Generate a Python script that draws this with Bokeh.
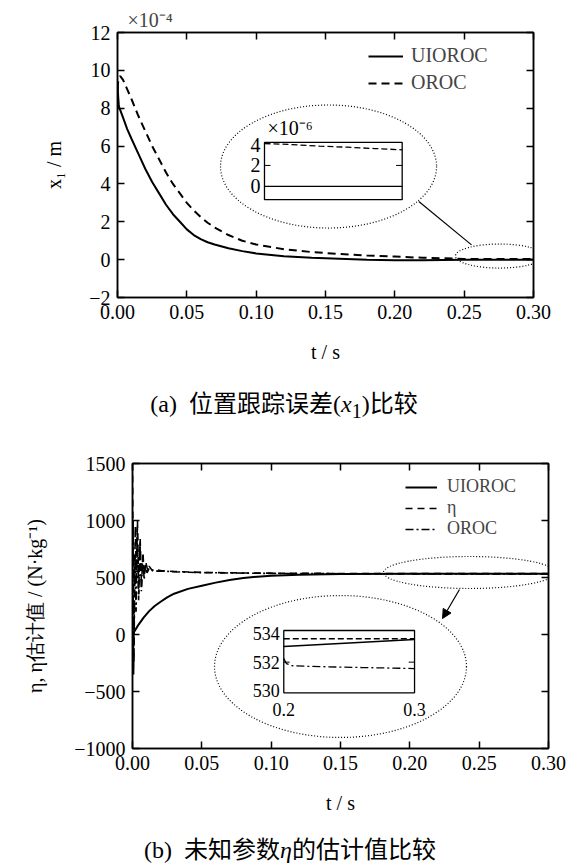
from bokeh.plotting import figure
from bokeh.models import (Range1d, FixedTicker, LinearAxis, Legend, LegendItem, Title, Div,
                          Arrow, NormalHead, CustomJSTickFormatter)
from bokeh.layouts import column
from bokeh.embed import file_html
from bokeh.resources import INLINE
from bokeh.core.properties import value

FONT = "Liberation Serif"

# ---------------- shared x axis ----------------
ticks_x = [0.0, 0.05, 0.10, 0.15, 0.20, 0.25, 0.30]
labels_x = ["0.00", "0.05", "0.10", "0.15", "0.20", "0.25", "0.30"]

# ---------------- (a) position tracking error x1 (units of 1e-4 m) ----------------
t_a = [0, 0.0005, 0.001, 0.002, 0.004, 0.007, 0.01, 0.015, 0.02, 0.025, 0.03, 0.035,
       0.04, 0.045, 0.05, 0.055, 0.06, 0.065, 0.07, 0.08, 0.09, 0.10, 0.12, 0.14, 0.16,
       0.18, 0.20, 0.22, 0.25, 0.28, 0.30]
x1_uioroc = [9.3, 8.6, 8.1, 7.9, 7.5, 6.9, 6.4, 5.6, 4.8, 4.1, 3.5, 2.9,
             2.4, 2.0, 1.6, 1.3, 1.08, 0.92, 0.8, 0.6, 0.45, 0.33, 0.18, 0.1, 0.05,
             0.0, -0.03, -0.03, 0.0, 0.0, 0.0]
x1_oroc = [9.0, 9.4, 9.6, 9.7, 9.5, 9.0, 8.5, 7.6, 6.8, 6.0, 5.3, 4.6,
           4.0, 3.5, 3.0, 2.6, 2.25, 1.95, 1.7, 1.3, 1.0, 0.8, 0.55, 0.4, 0.3,
           0.22, 0.16, 0.1, 0.04, 0.037, 0.035]
ticks_y_a = [-2, 0, 2, 4, 6, 8, 10, 12]
labels_y_a = ["\u22122", "0", "2", "4", "6", "8", "10", "12"]

# inset of (a) (units of 1e-6 m)
t_a_in = [0.25, 0.26, 0.27, 0.28, 0.29, 0.30]
x1_uioroc_in = [0, 0, 0, 0, 0, 0]
x1_oroc_in = [4.1, 4.0, 3.85, 3.75, 3.62, 3.5]
ticks_y_a_in = [0, 2, 4]
labels_y_a_in = ["0", "2", "4"]
xr_a_in = (0.25, 0.30)
yr_a_in = (-1.28, 4.22)

# ---------------- (b) estimate of eta ----------------
t_b_u = [0, 0.002, 0.004, 0.008, 0.012, 0.016, 0.02, 0.025, 0.03, 0.04, 0.05, 0.06,
         0.07, 0.08, 0.09, 0.10, 0.12, 0.15, 0.20, 0.25, 0.30]
eta_uioroc = [0, 40, 80, 148, 205, 250, 285, 325, 358, 400, 428, 455,
              478, 495, 507, 515, 525, 531, 533.1, 533.35, 533.6]
t_b_e = [0, 0.0004, 0.0008, 0.0014, 0.002, 0.0028, 0.0036, 0.0045, 0.0055, 0.0065,
         0.0075, 0.0085, 0.0095, 0.011, 0.012, 0.014, 0.017, 0.02, 0.03, 0.05, 0.08,
         0.10, 0.15, 0.20, 0.25, 0.30]
eta_true = [1500, 700, -350, 300, 950, 500, 1000, 350, 850, 420,
            720, 520, 640, 560, 600, 565, 575, 560, 552, 545, 540,
            538, 535, 533.65, 533.65, 533.65]
t_b_o = [0, 0.0005, 0.001, 0.0018, 0.0026, 0.0034, 0.0044, 0.0054, 0.0064, 0.0074,
         0.0084, 0.0094, 0.0105, 0.012, 0.015, 0.02, 0.03, 0.05, 0.08, 0.10, 0.15,
         0.19, 0.20, 0.202, 0.21, 0.25, 0.30]
eta_oroc = [300, 1000, -250, 700, 200, 950, 300, 800, 380, 700,
            480, 620, 540, 580, 555, 558, 550, 543, 538, 536, 533.5,
            532.6, 532.3, 531.9, 531.72, 531.62, 531.55]
ticks_y_b = [-1000, -500, 0, 500, 1000, 1500]
labels_y_b = ["\u22121000", "\u2212500", "0", "500", "1000", "1500"]

# inset of (b)
t_b_in = [0.20, 0.25, 0.30]
eta_uioroc_in = [533.1, 533.35, 533.6]
eta_true_in = [533.65, 533.65, 533.65]
t_b_in_o = [0.20, 0.202, 0.206, 0.22, 0.26, 0.30]
eta_oroc_in = [532.25, 531.9, 531.75, 531.7, 531.62, 531.55]
ticks_y_b_in = [530, 532, 534]
labels_y_b_in = ["530", "532", "534"]
ticks_x_b_in = [0.2, 0.3]
labels_x_b_in = ["0.2", "0.3"]
xr_b_in = (0.2, 0.3)
yr_b_in = (529.84, 534.23)

caption_a = "(a)&ensp;\u4f4d\u7f6e\u8ddf\u8e2a\u8bef\u5dee(<i>x</i><sub>1</sub>)\u6bd4\u8f83"
caption_b = "(b)&ensp;\u672a\u77e5\u53c2\u6570<i>\u03b7</i>\u7684\u4f30\u8ba1\u503c\u6bd4\u8f83"


def make_fig(height, bt, bb, yr, yt, yl, ylabel, ystandoff, margin_left):
    p = figure(width=568, height=height, x_range=Range1d(0, 0.3), y_range=Range1d(*yr),
               output_backend="svg", toolbar_location=None,
               min_border_left=117, min_border_right=35, min_border_top=bt, min_border_bottom=bb,
               margin=(0, 0, 0, margin_left))
    p.grid.visible = False
    p.outline_line_color = "black"
    p.outline_line_width = 1.5
    p.outline_line_alpha = 1
    p.background_fill_color = "white"
    p.border_fill_color = "white"
    xa = p.xaxis[0]
    ya = p.yaxis[0]
    xa.ticker = FixedTicker(ticks=ticks_x)
    xa.major_label_overrides = dict(zip(ticks_x, labels_x))
    ya.ticker = FixedTicker(ticks=yt)
    ya.major_label_overrides = dict(zip(yt, yl))
    xa.axis_label = "t / s"
    ya.axis_label = ylabel
    xa.axis_label_standoff = 19
    ya.axis_label_standoff = ystandoff
    top = LinearAxis(ticker=FixedTicker(ticks=ticks_x), formatter=CustomJSTickFormatter(code="return ''"))
    right = LinearAxis(ticker=FixedTicker(ticks=yt), formatter=CustomJSTickFormatter(code="return ''"))
    p.add_layout(top, "above")
    p.add_layout(right, "right")
    for ax in (xa, ya, top, right):
        ax.axis_line_color = "black"
        ax.axis_line_width = 1.5
        ax.major_tick_in = 7
        ax.major_tick_out = 0
        ax.major_tick_line_width = 1.5
        ax.minor_tick_line_color = None
        ax.major_label_text_font = FONT
        ax.major_label_text_font_size = "20px"
        ax.major_label_text_color = "black"
        ax.major_label_standoff = 7
        ax.axis_label_text_font = FONT
        ax.axis_label_text_font_size = "20px"
        ax.axis_label_text_font_style = "normal"
        ax.axis_label_text_color = "black"
    top.major_label_standoff = 0
    right.major_label_standoff = 0
    return p


def caption(html, height, pad_top, pad_right):
    style = ("font-family:'Liberation Serif','Noto Sans CJK SC',serif;font-size:24px;line-height:24px;"
             "color:black;white-space:nowrap;text-align:center;box-sizing:border-box;"
             f"width:583px;padding-top:{pad_top}px;padding-right:{pad_right}px;")
    return Div(text=f'<div style="{style}">{html}</div>', width=583, height=height, margin=0)


def legend_row(label, renderer, loc, glyph_w, standoff):
    return Legend(items=[LegendItem(label=label, renderers=[renderer])], location=loc,
                  padding=0, margin=0, spacing=0, glyph_width=glyph_w, glyph_height=18,
                  label_height=18, label_standoff=standoff, label_text_font=FONT,
                  label_text_font_size="18px", background_fill_alpha=0, border_line_color=None)


DOT = dict(fill_color=None, line_color="black", line_dash="1 2", line_width=1.2)

# ================= figure (a) =================
p1 = make_fig(380, 32, 83, (-2, 12), ticks_y_a, labels_y_a, "x\u2081 / m", 21, 0)

r_u = p1.line(t_a, x1_uioroc, line_color="black", line_width=2)
r_o = p1.line(t_a, x1_oroc, line_color="black", line_width=2, line_dash="8 5")

# zoom marks
p1.ellipse(x=[0.1522], y=[4.92], width=[0.1558], height=[6.50], **DOT)
p1.ellipse(x=[0.2755], y=[0.19], width=[0.0635], height=[1.27], **DOT)
p1.segment(x0=[0.2173], y0=[3.07], x1=[0.2553], y1=[0.78], line_color="black", line_width=1.2)

# inset (a)
s1 = p1.subplot(x_source=Range1d(*xr_a_in), y_source=Range1d(*yr_a_in),
                x_target=Range1d(0.1060, 0.2053), y_target=Range1d(3.17, 6.20))
s1.quad(left=[xr_a_in[0]], right=[xr_a_in[1]], bottom=[yr_a_in[0]], top=[yr_a_in[1]],
        fill_color="white", line_color="black", line_width=1.3)
s1.line(t_a_in, x1_uioroc_in, line_color="black", line_width=1.3)
s1.line(t_a_in, x1_oroc_in, line_color="black", line_width=1.3, line_dash="6 3")
s1.segment(x0=[xr_a_in[0], xr_a_in[1]], y0=[2, 2], x1=[xr_a_in[0] + 0.0022, xr_a_in[1] - 0.0022], y1=[2, 2],
           line_color="black", line_width=1)
s1.text(x=[xr_a_in[0]] * len(ticks_y_a_in), y=ticks_y_a_in, text=labels_y_a_in, x_offset=-4,
        text_align="right", text_baseline="middle", text_font=value(FONT), text_font_size="20px",
        text_color="black")
s1.text(x=[xr_a_in[0]], y=[yr_a_in[1]], text=["\u00d710\u207b\u2076"], x_offset=3, y_offset=-14,
        text_align="left", text_baseline="middle", text_font=value(FONT), text_font_size="20px",
        text_color="black")

leg1 = Legend(items=[LegendItem(label="UIOROC", renderers=[r_u]), LegendItem(label="OROC", renderers=[r_o])],
              location=(251, 203), padding=0, margin=0, spacing=4, glyph_width=35, glyph_height=20,
              label_height=20, label_standoff=8, label_text_font=FONT, label_text_font_size="20px",
              background_fill_alpha=0, border_line_color=None)
p1.add_layout(leg1)

p1.add_layout(Title(text="\u00d710\u207b\u2074", align="left", offset=10, standoff=4,
                    text_font=FONT, text_font_size="20px", text_font_style="normal"), "above")

# ================= figure (b) =================
p2 = make_fig(398, 39, 74, (-1000, 1500), ticks_y_b, labels_y_b,
              "\u03b7, \u03b7\u4f30\u8ba1\u503c / (N\u00b7kg\u207b\u00b9)", 25, 15)

q_u = p2.line(t_b_u, eta_uioroc, line_color="black", line_width=2)
q_e = p2.line(t_b_e, eta_true, line_color="black", line_width=1.6, line_dash="7 5")
q_o = p2.line(t_b_o, eta_oroc, line_color="black", line_width=1.6, line_dash="8 3 2 3")

p2.ellipse(x=[0.150], y=[-280.7], width=[0.1817], height=[1245.6], **DOT)
p2.ellipse(x=[0.2430], y=[543.9], width=[0.124], height=[280.7], **DOT)
p2.add_layout(Arrow(end=NormalHead(size=9, fill_color="black", line_color="black"),
                    x_start=0.2358, y_start=394.7, x_end=0.2236, y_end=140.4,
                    line_color="black", line_width=1.2))

s2 = p2.subplot(x_source=Range1d(*xr_b_in), y_source=Range1d(*yr_b_in),
                x_target=Range1d(0.1091, 0.2034), y_target=Range1d(-511.4, 35.1))
s2.quad(left=[xr_b_in[0]], right=[xr_b_in[1]], bottom=[yr_b_in[0]], top=[yr_b_in[1]],
        fill_color="white", line_color="black", line_width=1.3)
s2.line(t_b_in, eta_true_in, line_color="black", line_width=1.3, line_dash="6 3")
s2.line(t_b_in, eta_uioroc_in, line_color="black", line_width=1.6)
s2.line(t_b_in_o, eta_oroc_in, line_color="black", line_width=1.3, line_dash="8 3 2 3")
s2.segment(x0=[xr_b_in[0], xr_b_in[1]], y0=[532, 532], x1=[xr_b_in[0] + 0.0045, xr_b_in[1] - 0.0045],
           y1=[532, 532], line_color="black", line_width=1)
s2.text(x=[xr_b_in[0]] * len(ticks_y_b_in), y=ticks_y_b_in, text=labels_y_b_in, x_offset=-4,
        text_align="right", text_baseline="middle", text_font=value(FONT), text_font_size="18px",
        text_color="black")
s2.text(x=ticks_x_b_in, y=[yr_b_in[0]] * len(ticks_x_b_in), text=labels_x_b_in, y_offset=10,
        text_align="center", text_baseline="top", text_font=value(FONT), text_font_size="18px",
        text_color="black")

p2.add_layout(legend_row("UIOROC", q_u, (273, 251), 32, 10))
p2.add_layout(legend_row("\u03b7", q_e, (273, 230), 32, 10))
p2.add_layout(legend_row("OROC", q_o, (273, 209), 32, 10))

div_a = caption(caption_a, 44, 12, 15)
div_b = caption(caption_b, 41, 16, 3)

layout = column(p1, div_a, p2, div_b, spacing=0)
open("out.html", "w").write(file_html(layout, INLINE))
